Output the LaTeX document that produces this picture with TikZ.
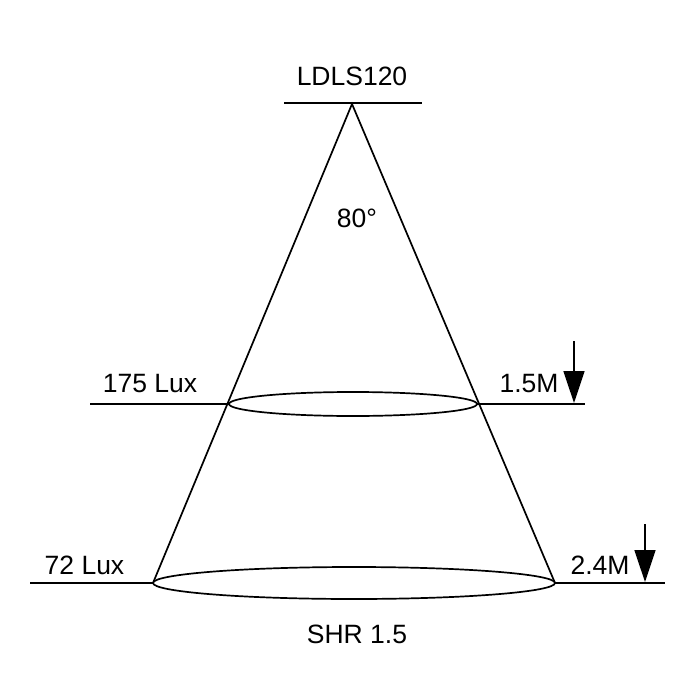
\documentclass[tikz,border=0pt]{standalone}
\usepackage{fontspec}
\setmainfont{Liberation Sans}
\usetikzlibrary{arrows.meta}
\begin{document}
\begin{tikzpicture}[x=1pt,y=-1pt,
  ln/.style={line width=1.7pt,black},
  lbl/.style={font=\fontsize{26.5}{30}\selectfont,inner sep=0pt},
  drop/.style={line width=1.7pt,-{Triangle[width=21pt,length=32pt]}}]
\useasboundingbox (0,0) rectangle (699,700);
% key points
\coordinate (apex) at (352,104);
\coordinate (tl) at (284,103);
\coordinate (tr) at (422,103);
\coordinate (bl) at (153,583);
\coordinate (br) at (555,583);
\coordinate (ml) at (229,404);
\coordinate (mr) at (477,404);
\coordinate (mlend) at (90,404);
\coordinate (mrend) at (585,404);
\coordinate (blend) at (30,583);
\coordinate (brend) at (665,583);
\coordinate (a1s) at (574,341);
\coordinate (a1e) at (574,403);
\coordinate (a2s) at (645,524);
\coordinate (a2e) at (645,582);
% lines
\draw[ln] (tl) -- (tr);
\draw[ln] (bl) -- (apex) -- (br);
\draw[ln] (mlend) -- (ml);
\draw[ln] (mr) -- (mrend);
\draw[ln] (blend) -- (bl);
\draw[ln] (br) -- (brend);
\draw[ln] (353,404) ellipse [x radius=124, y radius=12];
\draw[ln] (354,583) ellipse [x radius=201, y radius=16];
\draw[drop] (a1s) -- (a1e);
\draw[drop] (a2s) -- (a2e);
% labels
\node[lbl] (t1) at (352,76) {LDLS120};
\node[lbl] (t2) at (357,218) {80°};
\node[lbl] (t3) at (150,384) {175 Lux};
\node[lbl] (t4) at (529,384) {1.5M};
\node[lbl] (t5) at (84.5,565) {72 Lux};
\node[lbl] (t6) at (600,565) {2.4M};
\node[lbl] (t7) at (357,634) {SHR 1.5};
\end{tikzpicture}
\end{document}
